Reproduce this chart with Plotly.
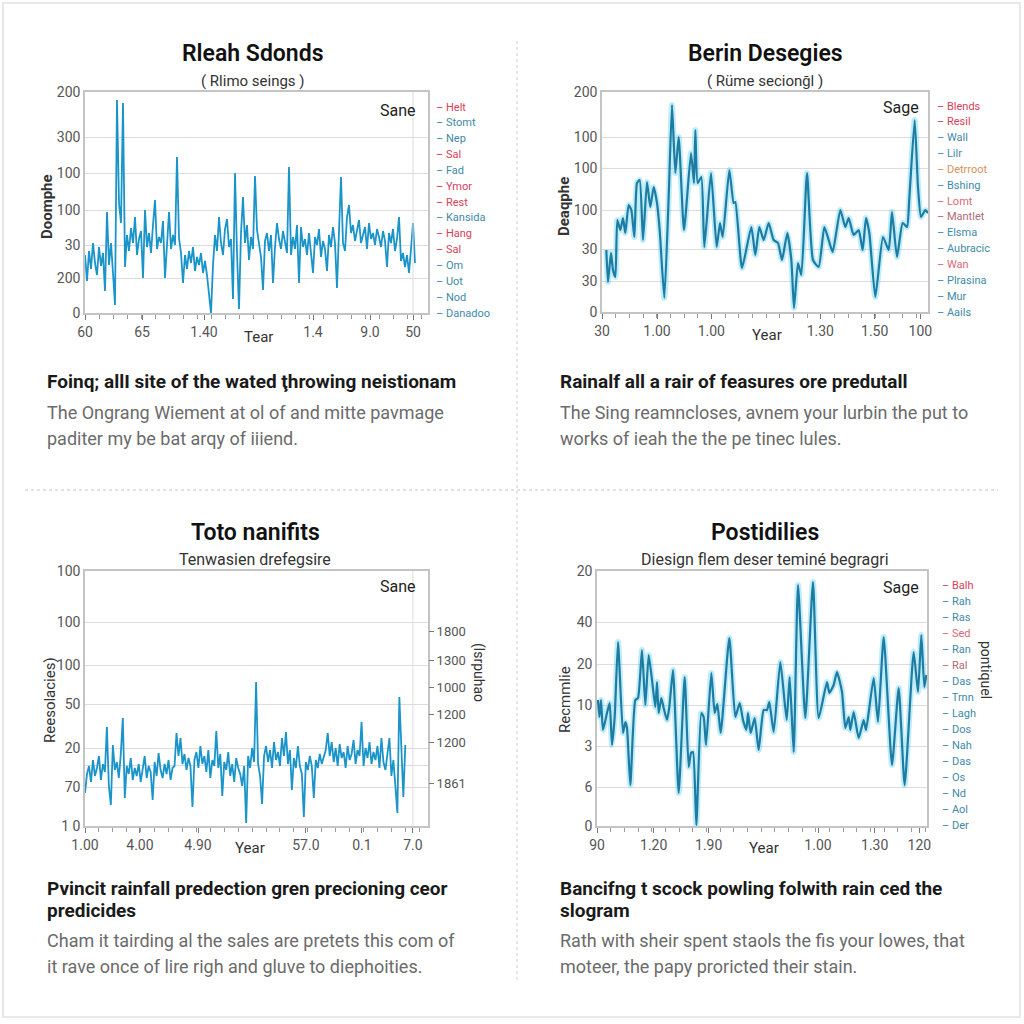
import plotly.graph_objects as go

# ---------------- DATA ----------------
# Panel 1 (top-left): dense series, one value per step
p1_values = [58, 32, 62, 44, 70, 50, 38, 66, 47, 60,
             22, 101, 48, 70, 40, 8, 213, 110, 90, 210,
             46, 78, 62, 85, 70, 96, 58, 74, 82, 35,
             103, 66, 80, 60, 88, 113, 64, 76, 70, 92,
             35, 72, 101, 64, 78, 68, 156, 75, 60, 30,
             58, 44, 62, 50, 66, 42, 56, 48, 60, 40,
             52, 38, 22, 0, 48, 78, 62, 96, 70, 58,
             84, 94, 66, 74, 14, 140, 60, 4, 80, 116,
             70, 88, 53, 76, 64, 137, 83, 68, 56, 23,
             72, 80, 62, 78, 30, 66, 90, 74, 64, 82,
             70, 60, 146, 58, 76, 64, 88, 30, 86, 66,
             74, 58, 80, 62, 40, 76, 68, 84, 56, 72,
             64, 42, 78, 66, 86, 70, 25, 82, 136, 70,
             62, 96, 108, 80, 88, 72, 82, 93, 70, 78,
             86, 64, 90, 74, 80, 68, 84, 76, 66, 82,
             72, 46, 80, 70, 84, 62, 74, 96, 52, 60,
             46, 58, 40, 64, 90, 50]
p1_xtick_pos = [0, 28.5, 59.5, 114, 142.5, 164]
p1_xtick_text = ["60", "65", "1.40", "1.4", "9.0", "50"]
p1_ytick_pos = [0, 35, 68, 103, 140, 176, 221]
p1_ytick_text = ["0", "200", "30", "100", "100", "300", "200"]
p1_legend = ["Helt", "Stomt", "Nep", "Sal", "Fad", "Ymor", "Rest",
             "Kansida", "Hang", "Sal", "Om", "Uot", "Nod", "Danadoo"]
p1_legend_red = [True, False, False, True, False, True, True,
                 False, True, True, False, False, False, False]

# Panel 2 (top-right)
p2_t = [283, 288, 297, 303, 310, 316, 325, 333, 340, 350, 358, 367, 375, 383,
        393, 405, 415, 425, 435, 443, 457, 470, 480, 490, 500, 516, 537, 546,
        550, 557, 568, 577, 597, 614, 624, 632, 652, 665, 670, 690, 718, 730,
        742, 755, 770, 785, 798, 810, 826, 838, 846, 858, 868, 885, 903, 920,
        937, 950, 962, 985, 1000, 1010, 1025, 1040, 1052, 1062, 1072, 1090,
        1113, 1130, 1140, 1155, 1172, 1185, 1192, 1208, 1218, 1227, 1240, 1248]
p2_values = [62, 30, 59, 42, 35, 92, 82, 94, 79, 107, 102, 75, 129, 132,
             72, 130, 105, 125, 109, 82, 14, 115, 207, 139, 175, 82, 159, 129,
             182, 129, 135, 65, 139, 65, 89, 75, 142, 109, 110, 44, 85, 57,
             85, 72, 89, 72, 69, 52, 79, 52, 4, 49, 37, 139, 52, 45,
             85, 72, 60, 102, 85, 94, 77, 82, 62, 94, 79, 15,
             75, 62, 100, 55, 89, 85, 114, 192, 125, 95, 102, 99]
p2_xtick_pos = [270, 435, 598, 925, 1088, 1225]
p2_xtick_text = ["30", "1.00", "1.00", "1.30", "1.50", "100"]
p2_ytick_pos = [0, 31, 63, 102, 144, 175, 220]
p2_ytick_text = ["0", "30", "30", "100", "100", "100", "200"]
p2_legend = ["Blends", "Resil", "Wall", "Lilr", "Detrroot", "Bshing", "Lomt",
             "Mantlet", "Elsma", "Aubracic", "Wan", "Plrasina", "Mur", "Aails"]
p2_legend_col = ["#d8405a", "#d8405a", "#3f8aa6", "#3f8aa6", "#d8925e", "#3f8aa6",
                 "#d86a78", "#b06a78", "#3f8aa6", "#3f8aa6", "#d86a78", "#3f8aa6",
                 "#3f8aa6", "#3f8aa6"]

# Panel 3 (bottom-left)
p3_values = [33, 52, 60, 44, 66, 50, 58, 70, 46, 62,
             54, 99, 40, 21, 81, 56, 64, 48, 72, 108,
             28, 60, 52, 68, 46, 58, 50, 62, 44, 56,
             70, 48, 60, 54, 26, 64, 50, 73, 56, 48,
             62, 52, 66, 46, 58, 60, 93, 70, 88, 62,
             72, 56, 68, 60, 19, 66, 74, 58, 80, 62,
             70, 54, 76, 48, 66, 60, 95, 58, 72, 30,
             64, 56, 74, 50, 62, 44, 68, 58, 52, 40,
             60, 3, 70, 58, 78, 64, 144, 62, 50, 22,
             70, 80, 64, 76, 58, 84, 66, 74, 60, 88,
             70, 94, 62, 76, 36, 68, 58, 80, 60, 52,
             9, 64, 56, 70, 60, 28, 66, 58, 72, 62,
             68, 76, 93, 70, 84, 64, 78, 60, 82, 68,
             74, 58, 80, 66, 72, 86, 62, 76, 70, 104,
             60, 78, 68, 84, 62, 74, 66, 80, 58, 88,
             64, 56, 72, 88, 50, 66, 40, 13, 129, 70,
             29, 81]
p3_xtick_pos = [0, 27.6, 56.8, 111, 139.2, 164.8]
p3_xtick_text = ["1.00", "4.00", "4.90", "57.0", "0.1", "7.0"]
p3_ytick_pos = [0, 39, 61, 78, 122, 161, 204, 255]
p3_ytick_text = ["1 0", "70", "", "20", "50", "100", "100", "100"]
p3_rtick_pos = [43, 84, 112, 139, 166, 195]
p3_rtick_text = ["1861", "1200", "1200", "1000", "1300", "1800"]

# Panel 4 (bottom-right)
p4_t = [258, 262, 267, 273, 285, 293, 300, 308, 318, 333, 340, 345, 355, 370,
        378, 390, 400, 410, 420, 430, 435, 440, 448, 455, 465, 472, 483, 500,
        518, 530, 537, 543, 553, 568, 575, 582, 598, 608, 616, 626, 652, 670,
        683, 693, 703, 708, 716, 728, 740, 755, 765, 772, 785, 805, 824, 833,
        845, 858, 880, 903, 920, 945, 952, 965, 975, 990, 1000, 1010, 1015,
        1025, 1040, 1055, 1062, 1085, 1098, 1115, 1140, 1160, 1178, 1205,
        1218, 1228, 1237, 1243]
p4_values = [126, 109, 126, 96, 113, 123, 81, 109, 184, 93, 104, 98, 41, 126,
             128, 176, 121, 171, 146, 119, 144, 113, 128, 118, 106, 119, 156, 33,
             149, 59, 73, 74, 1, 113, 109, 81, 153, 113, 122, 93, 188, 109,
             123, 106, 96, 113, 93, 108, 76, 116, 116, 124, 94, 164, 106, 149,
             74, 241, 108, 244, 108, 144, 133, 141, 154, 134, 98, 109, 96,
             114, 88, 106, 96, 148, 104, 189, 61, 138, 41, 174,
             134, 191, 139, 151]
p4_xtick_pos = [255, 425, 590, 918, 1088, 1222]
p4_xtick_text = ["90", "1.20", "1.90", "1.00", "1.30", "120"]
p4_ytick_pos = [0, 39, 80, 121, 162, 204, 255]
p4_ytick_text = ["0", "6", "3", "10", "20", "40", "20"]
p4_legend = ["Balh", "Rah", "Ras", "Sed", "Ran", "Ral", "Das", "Trnn",
             "Lagh", "Dos", "Nah", "Das", "Os", "Nd", "Aol", "Der"]
p4_legend_col = ["#d8405a", "#3f8aa6", "#3f8aa6", "#d86a78", "#3f8aa6", "#b06a78",
                 "#3f8aa6", "#3f8aa6", "#3f8aa6", "#3f8aa6", "#3f8aa6", "#3f8aa6",
                 "#3f8aa6", "#3f8aa6", "#3f8aa6", "#3f8aa6"]

# ---------------- FIGURE ----------------
W = H = 1024
FONT = "Roboto, Arial, sans-serif"
CAP_FONT = "Roboto, Arial, sans-serif"
LINE_BRIGHT = "#1b95c9"
LINE_DARK = "#1d7ca3"
GLOW = "rgba(70,200,235,0.35)"


def px(x):
    return x / W


def py(y):
    return 1 - y / H


fig = go.Figure()

fig.add_trace(go.Scatter(x=list(range(len(p1_values))), y=p1_values, mode="lines",
                         line=dict(color=LINE_BRIGHT, width=1.8), xaxis="x", yaxis="y",
                         showlegend=False, hoverinfo="skip"))
fig.add_trace(go.Scatter(x=p2_t, y=p2_values, mode="lines",
                         line=dict(color=GLOW, width=6, shape="spline", smoothing=0.5),
                         xaxis="x2", yaxis="y2", showlegend=False, hoverinfo="skip"))
fig.add_trace(go.Scatter(x=p2_t, y=p2_values, mode="lines",
                         line=dict(color=LINE_DARK, width=2.2, shape="spline", smoothing=0.5),
                         xaxis="x2", yaxis="y2", showlegend=False, hoverinfo="skip"))
fig.add_trace(go.Scatter(x=list(range(len(p3_values))), y=p3_values, mode="lines",
                         line=dict(color=LINE_BRIGHT, width=1.8), xaxis="x3", yaxis="y3",
                         showlegend=False, hoverinfo="skip"))
# same series bound to the right-hand axis of panel 3 (invisible) so that axis renders
fig.add_trace(go.Scatter(x=list(range(len(p3_values))), y=p3_values, mode="lines",
                         line=dict(color=LINE_BRIGHT, width=1.8), opacity=0,
                         xaxis="x3", yaxis="y5", showlegend=False, hoverinfo="skip"))
fig.add_trace(go.Scatter(x=p4_t, y=p4_values, mode="lines",
                         line=dict(color=GLOW, width=6, shape="spline", smoothing=0.5),
                         xaxis="x4", yaxis="y4", showlegend=False, hoverinfo="skip"))
fig.add_trace(go.Scatter(x=p4_t, y=p4_values, mode="lines",
                         line=dict(color=LINE_DARK, width=2.2, shape="spline", smoothing=0.5),
                         xaxis="x4", yaxis="y4", showlegend=False, hoverinfo="skip"))

tickfont = dict(family=FONT, size=14, color="#555")


def xax(domain, rng, tv, tt, anchor, mdt):
    return dict(domain=domain, range=rng, tickmode="array", tickvals=tv, ticktext=tt,
                anchor=anchor, showgrid=False, zeroline=False, showline=True,
                linecolor="#c4c4c4", linewidth=1.5, mirror=True, ticks="outside",
                ticklen=5, tickcolor="#777", tickfont=tickfont, automargin=False,
                minor=dict(tickmode="linear", tick0=rng[0], dtick=mdt, ticks="outside",
                           ticklen=4, tickcolor="#999", showgrid=False))


def yax(domain, rng, tv, tt, anchor):
    return dict(domain=domain, range=rng, tickmode="array", tickvals=tv, ticktext=tt,
                anchor=anchor, showgrid=True, gridcolor="#dcdcdc", gridwidth=1,
                zeroline=False, showline=True, linecolor="#c4c4c4", linewidth=1.5,
                mirror=True, ticks="", tickfont=tickfont, automargin=False)


fig.update_layout(
    width=W, height=H, autosize=False,
    margin=dict(l=0, r=0, t=0, b=0, pad=0),
    paper_bgcolor="white", plot_bgcolor="white",
    xaxis=xax([px(85), px(428)], [0, 171.5], p1_xtick_pos, p1_xtick_text, "y", 7),
    yaxis=yax([py(313), py(92)], [0, 221], p1_ytick_pos, p1_ytick_text, "x"),
    xaxis2=xax([px(602), px(928)], [270, 1248], p2_xtick_pos, p2_xtick_text, "y2", 41),
    yaxis2=yax([py(312), py(92)], [0, 220], p2_ytick_pos, p2_ytick_text, "x2"),
    xaxis3=xax([px(85), px(428)], [0, 172.4], p3_xtick_pos, p3_xtick_text, "y3", 7),
    yaxis3=yax([py(826), py(571)], [0, 255], p3_ytick_pos, p3_ytick_text, "x3"),
    xaxis4=xax([px(597), px(927)], [255, 1245], p4_xtick_pos, p4_xtick_text, "y4", 41),
    yaxis4=yax([py(826), py(571)], [0, 255], p4_ytick_pos, p4_ytick_text, "x4"),
    yaxis5=dict(overlaying="y3", side="right", anchor="x3", range=[0, 255],
                tickmode="array", tickvals=p3_rtick_pos, ticktext=p3_rtick_text,
                showgrid=False, zeroline=False, showline=False, ticks="outside",
                ticklen=5, tickcolor="#777", automargin=False,
                tickfont=dict(family=FONT, size=13, color="#555")),
)

ann = []


def text(x, y, s, size=13, color="#333", xanchor="center", yanchor="middle",
         family=FONT, angle=0, weight=None):
    f = dict(family=family, size=size, color=color)
    if weight:
        f["weight"] = weight
    ann.append(dict(x=px(x), y=py(y), xref="paper", yref="paper", text=s,
                    showarrow=False, xanchor=xanchor, yanchor=yanchor, textangle=angle,
                    font=f))


# titles & subtitles
text(253, 53, "Rleah Sdonds", 23, "#111", weight=600)
text(253, 81, "( Rlimo seings )", 15, "#333")
text(765, 53, "Berin Desegies", 23, "#111", weight=600)
text(765, 81, "( Rüme secionḡl )", 15, "#333")
text(255, 532, "Toto nanifits", 23, "#111", weight=600)
text(255, 559, "Tenwasien drefegsire", 16, "#333")
text(765, 532, "Postidilies", 23, "#111", weight=600)
text(765, 559, "Diesign flem deser teminé begragri", 16, "#333")

# in-plot labels
text(418, 110, "Sane", 16, "#222", xanchor="right")
text(921, 107, "Sage", 16, "#222", xanchor="right")
text(418, 586, "Sane", 16, "#222", xanchor="right")
text(921, 587, "Sage", 16, "#222", xanchor="right")

# axis titles
text(258, 337, "Tear", 15, "#333")
text(767, 335, "Year", 15, "#333")
text(250, 848, "Year", 15, "#333")
text(764, 848, "Year", 15, "#333")
text(47, 207, "<b>Doomphe</b>", 15, "#333", angle=-90)
text(564, 207, "<b>Deaqphe</b>", 15, "#333", angle=-90)
text(50, 700, "Reesolacies)", 15, "#333", angle=-90)
text(565, 700, "Recmmlie", 15, "#333", angle=-90)
text(479, 672, "(lsrpuhao", 14, "#333", angle=90)
text(986, 670, "pontiquel", 14, "#333", angle=90)

# side key lists
for k, name in enumerate(p1_legend):
    c = "#d8405a" if p1_legend_red[k] else "#3f8aa6"
    text(434, 107 + k * 15.85, "– " + name, 11, c, xanchor="left")
for k, name in enumerate(p2_legend):
    text(935, 106 + k * 15.85, "– " + name, 11, p2_legend_col[k], xanchor="left")
for k, name in enumerate(p4_legend):
    text(940, 585 + k * 16, "– " + name, 11, p4_legend_col[k], xanchor="left")

# captions
CAP_HEAD = "#1a1a1a"
CAP_BODY = "#6b6b6b"
text(45, 381, "<b>Foinq; allI site of the wated ţhrowing neistionam</b>", 19, CAP_HEAD,
     xanchor="left", family=CAP_FONT)
text(45, 412, "The Ongrang Wiement at ol of and mitte pavmage", 18, CAP_BODY,
     xanchor="left", family=CAP_FONT)
text(45, 438, "paditer my be bat arqy of iiiend.", 18, CAP_BODY,
     xanchor="left", family=CAP_FONT)
text(558, 381, "<b>Rainalf all a rair of feasures ore predutall</b>", 19, CAP_HEAD,
     xanchor="left", family=CAP_FONT)
text(558, 412, "The Sing reamncloses, avnem your lurbin the put to", 18, CAP_BODY,
     xanchor="left", family=CAP_FONT)
text(558, 438, "works of ieah the the pe tinec lules.", 18, CAP_BODY,
     xanchor="left", family=CAP_FONT)
text(45, 888, "<b>Pvincit rainfall predection gren precioning ceor</b>", 19, CAP_HEAD,
     xanchor="left", family=CAP_FONT)
text(45, 910, "<b>predicides</b>", 19, CAP_HEAD, xanchor="left", family=CAP_FONT)
text(45, 940, "Cham it tairding al the sales are pretets this com of", 18, CAP_BODY,
     xanchor="left", family=CAP_FONT)
text(45, 966, "it rave once of lire righ and gluve to diephoities.", 18, CAP_BODY,
     xanchor="left", family=CAP_FONT)
text(558, 888, "<b>Bancifng t scock powling folwith rain ced the</b>", 19, CAP_HEAD,
     xanchor="left", family=CAP_FONT)
text(558, 910, "<b>slogram</b>", 19, CAP_HEAD, xanchor="left", family=CAP_FONT)
text(558, 940, "Rath with sheir spent staols the fis your lowes, that", 18, CAP_BODY,
     xanchor="left", family=CAP_FONT)
text(558, 966, "moteer, the papy proricted their stain.", 18, CAP_BODY,
     xanchor="left", family=CAP_FONT)

fig.update_layout(annotations=ann)

shapes = [
    dict(type="rect", xref="paper", yref="paper", x0=px(3), x1=px(1020), y0=py(1017),
         y1=py(3), line=dict(color="#e2e2e2", width=1.5)),
    dict(type="line", xref="paper", yref="paper", x0=px(517), x1=px(517), y0=py(980),
         y1=py(40), line=dict(color="#cfcfcf", width=1, dash="dot")),
    dict(type="line", xref="paper", yref="paper", x0=px(25), x1=px(998), y0=py(490),
         y1=py(490), line=dict(color="#c4c4c4", width=1.2, dash="dot")),
    dict(type="line", xref="x", yref="paper", x0=p1_xtick_pos[-1], x1=p1_xtick_pos[-1],
         y0=py(313), y1=py(92), line=dict(color="#dcdcdc", width=1)),
    dict(type="line", xref="x3", yref="paper", x0=p3_xtick_pos[-1], x1=p3_xtick_pos[-1],
         y0=py(826), y1=py(571), line=dict(color="#dcdcdc", width=1)),
]
fig.update_layout(shapes=shapes)

fig.write_html("out.html", config={"displayModeBar": False},
               post_script="document.body.style.margin='0';document.body.style.overflow='hidden';")
